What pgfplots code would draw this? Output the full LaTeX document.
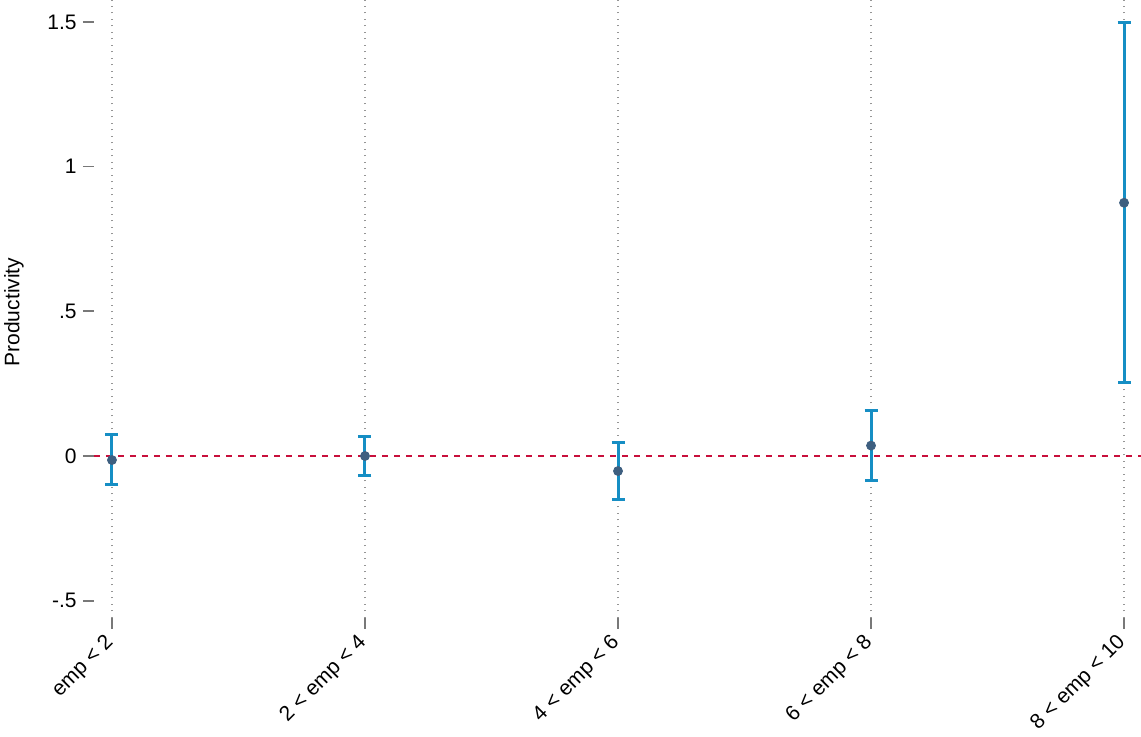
\documentclass[border=0pt]{standalone}
\usepackage{pgfplots}
\pgfplotsset{compat=1.18}
\usepackage{fontspec}
\setmainfont{Liberation Sans}

\definecolor{cibar}{RGB}{22,142,196}
\definecolor{pointc}{RGB}{62,95,128}
\definecolor{zeroline}{RGB}{200,16,60}
\definecolor{tickgray}{RGB}{120,120,120}
\definecolor{gridgray}{RGB}{150,150,150}

\begin{document}
\begin{tikzpicture}
\useasboundingbox (0,0) rectangle (570.5pt,368.5pt);
\begin{axis}[
  at={(47pt,59.5pt)}, anchor=south west,
  scale only axis,
  width=523.5pt, height=309pt,
  xmin=-0.071, xmax=4.067,
  ymin=-0.5598, ymax=1.5757,
  axis line style={draw=none},
  font=\fontsize{10.5}{12}\selectfont,
  xtick={0,1,2,3,4},
  xticklabels={emp < 2, 2 < emp < 4, 4 < emp < 6, 6 < emp < 8, 8 < emp < 10},
  xticklabel style={rotate=45, anchor=east, inner sep=1pt},
  xticklabel shift=4.5pt,
  ytick={-0.5,0,0.5,1,1.5},
  yticklabels={-.5,0,.5,1,1.5},
  yticklabel style={inner sep=3pt},
  tick align=outside,
  major tick length=5.5pt,
  tick style={draw=tickgray, line width=0.9pt},
  xtick pos=bottom, ytick pos=left,
  xmajorgrids=true, ymajorgrids=false,
  major grid style={draw=gridgray, line width=0.6pt, dash pattern=on 0.6pt off 2.65pt},
  ylabel={Productivity},
  ylabel style={at={(axis description cs:-0.0764,0.495)}, rotate=0, anchor=center},
  clip=false,
]
% reference line at zero
\addplot[zeroline, line width=1pt, dash pattern=on 3pt off 3pt, forget plot]
  coordinates {(-0.071,0) (4.067,0)};
% point estimates with 95% confidence intervals
\addplot[
  only marks,
  mark=*, mark size=2.25pt,
  mark options={fill=pointc, draw=pointc},
  error bars/.cd,
    y dir=both, y explicit,
    error bar style={cibar, line width=1.5pt},
    error mark options={cibar, line width=1.5pt, mark size=3.25pt, rotate=90},
] table[x=x, y=y, y error plus=ep, y error minus=em] {
x  y       ep     em
0  -0.014  0.087  0.084
1   0.000  0.066  0.066
2  -0.052  0.099  0.100
3   0.036  0.121  0.119
4   0.875  0.622  0.622
};
\end{axis}
\end{tikzpicture}
\end{document}
